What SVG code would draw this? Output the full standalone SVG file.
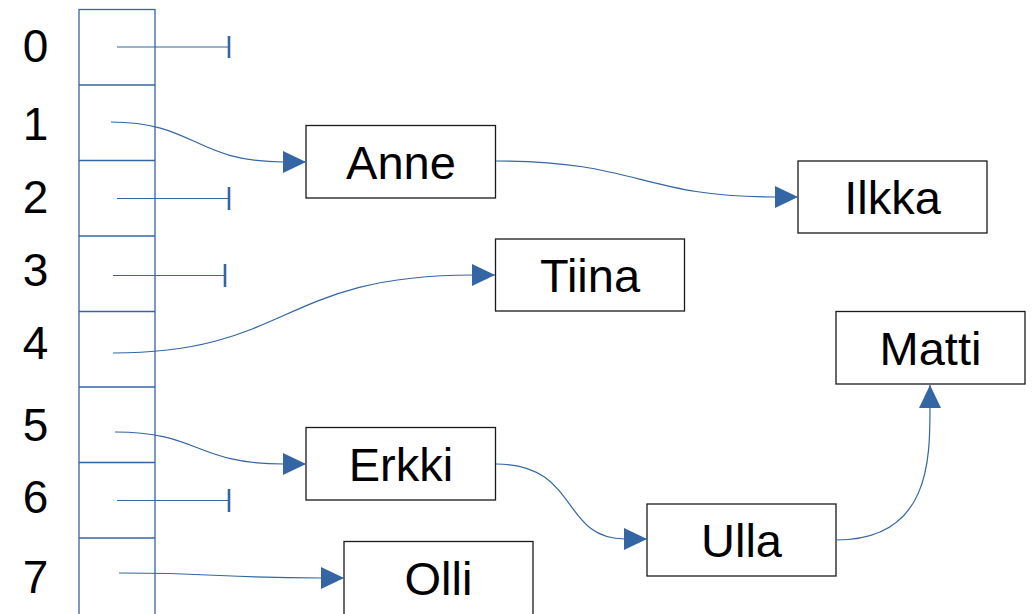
<svg xmlns="http://www.w3.org/2000/svg" width="1036" height="614" viewBox="0 0 1036 614">
<style>
.idx{font-family:"Liberation Sans",Arial,sans-serif;font-size:46px;fill:#000;text-anchor:middle}
.lbl{font-family:"Liberation Sans",Arial,sans-serif;font-size:47px;fill:#000;text-anchor:middle}
.box{fill:#fff;stroke:#1a1a1a;stroke-width:1.3}
.cell{fill:none;stroke:#3465a4;stroke-width:1.3}
.edge{fill:none;stroke:#3465a4;stroke-width:1.2}
.bar{stroke:#3465a4;stroke-width:2.6}
</style>
<defs>
<marker id="arr" markerUnits="userSpaceOnUse" markerWidth="24" markerHeight="24" refX="23" refY="11" orient="auto" viewBox="0 0 24 24">
<path d="M0,0 L23,11 L0,22 z" fill="#3465a4"/>
</marker>
</defs>
<rect width="1036" height="614" fill="#fff"/>
<g id="array">
<rect class="cell" x="79" y="9.5" width="76" height="610"/>
<line class="cell" x1="79" y1="85" x2="155" y2="85"/>
<line class="cell" x1="79" y1="160.5" x2="155" y2="160.5"/>
<line class="cell" x1="79" y1="236" x2="155" y2="236"/>
<line class="cell" x1="79" y1="311.5" x2="155" y2="311.5"/>
<line class="cell" x1="79" y1="387" x2="155" y2="387"/>
<line class="cell" x1="79" y1="462.5" x2="155" y2="462.5"/>
<line class="cell" x1="79" y1="538" x2="155" y2="538"/>
<text class="idx" x="35.5" y="62">0</text>
<text class="idx" x="35.5" y="140">1</text>
<text class="idx" x="35.5" y="213">2</text>
<text class="idx" x="35.5" y="286">3</text>
<text class="idx" x="35.5" y="359">4</text>
<text class="idx" x="35.5" y="441">5</text>
<text class="idx" x="35.5" y="513">6</text>
<text class="idx" x="35.5" y="593">7</text>
</g>
<g id="Anne"><rect class="box" x="306" y="125.5" width="189.5" height="72.5"/><text class="lbl" x="401" y="179">Anne</text></g>
<g id="Ilkka"><rect class="box" x="798" y="161" width="189" height="72"/><text class="lbl" x="892.5" y="214">Ilkka</text></g>
<g id="Tiina"><rect class="box" x="495.5" y="239" width="189" height="72"/><text class="lbl" x="590" y="292">Tiina</text></g>
<g id="Matti"><rect class="box" x="836" y="311.5" width="189" height="72.5"/><text class="lbl" x="930.5" y="365">Matti</text></g>
<g id="Erkki"><rect class="box" x="306" y="427.5" width="189.5" height="72.5"/><text class="lbl" x="401" y="481">Erkki</text></g>
<g id="Ulla"><rect class="box" x="647" y="504" width="189" height="72"/><text class="lbl" x="741.5" y="557">Ulla</text></g>
<g id="Olli"><rect class="box" x="344" y="541.5" width="189" height="75"/><text class="lbl" x="438.5" y="595">Olli</text></g>
<g id="connectors">
<line class="edge" x1="117" y1="47" x2="229" y2="47"/><line class="bar" x1="229" y1="36" x2="229" y2="58"/>
<line class="edge" x1="117" y1="198.5" x2="229" y2="198.5"/><line class="bar" x1="229" y1="187" x2="229" y2="210"/>
<line class="edge" x1="113" y1="275.5" x2="225" y2="275.5"/><line class="bar" x1="225" y1="264" x2="225" y2="287"/>
<line class="edge" x1="117" y1="500.5" x2="229" y2="500.5"/><line class="bar" x1="229" y1="489" x2="229" y2="512"/>
<path class="edge" d="M111,122 C195,122 195,162 284,162 L306,162" marker-end="url(#arr)"/>
<path class="edge" d="M496,161 C640,161 640,197 776,197 L798,197" marker-end="url(#arr)"/>
<path class="edge" d="M113,353 C290,353 280,275 473,275 L495,275" marker-end="url(#arr)"/>
<path class="edge" d="M115,432 C200,432 195,464 284,464 L306,464" marker-end="url(#arr)"/>
<path class="edge" d="M119,573 C220,573 220,578 322,578 L344,578" marker-end="url(#arr)"/>
<path class="edge" d="M496,464 C580,464 560,539 625,539 L647,539" marker-end="url(#arr)"/>
<path class="edge" d="M836,540 C930,540 930,460 930,407 L930,385" marker-end="url(#arr)"/>
</g>
</svg>
